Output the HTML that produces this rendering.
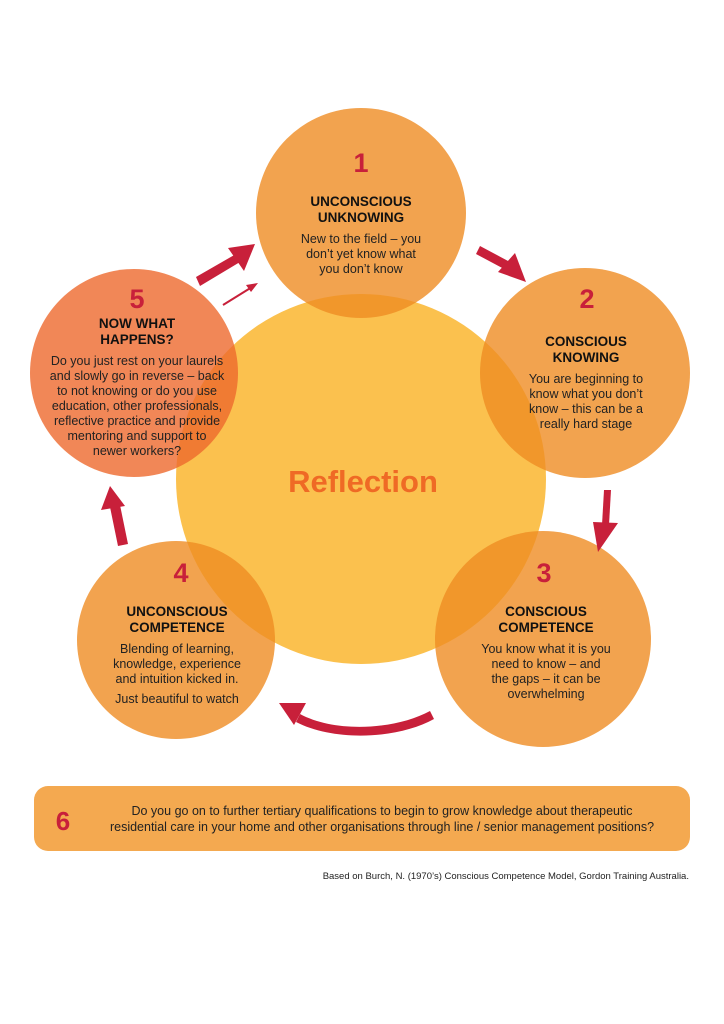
<!DOCTYPE html>
<html><head><style>
body{margin:0;background:#fff;}
svg{display:block;font-family:"Liberation Sans",Arial,sans-serif;}
.n{font-size:27px;font-weight:bold;fill:#c8203a;text-anchor:middle}
.t{font-size:13.5px;font-weight:bold;fill:#111;text-anchor:middle}
.b{font-size:12.5px;fill:#222;text-anchor:middle}
</style></head><body>
<svg width="724" height="1024" viewBox="0 0 724 1024">
<circle cx="361" cy="479" r="185" fill="#fbc14e"/>
<g fill="rgba(239,140,35,0.8)">
<circle cx="361" cy="213" r="105"/>
<circle cx="585" cy="373" r="105"/>
<circle cx="543" cy="639" r="108"/>
<circle cx="176" cy="640" r="99"/>
</g>
<circle cx="134" cy="373" r="104" fill="rgba(238,105,45,0.8)"/>
<text x="363" y="492" font-size="31" font-weight="bold" fill="#ef6a25" text-anchor="middle">Reflection</text>
<!-- arrows -->
<g fill="#c8203a" stroke="none">
<path d="M196 277 L236 254 L240 262 L200 286 Z"/>
<polygon points="255,244 228,248 244,271"/>
<path d="M480 246 L510 262 L506 270 L476 254Z"/>
<polygon points="526,282 498,272 515,253"/>
<path d="M604 490 L611 490 L609 525 L602 525Z"/>
<polygon points="598,552 593,522 618,523"/>
<path d="M430 711 C395 730 335 733 300 714 L296 722 C335 742 398 739 434 719 Z"/>
<polygon points="279,703 306,703 294,725"/>
<path d="M118 546 L128 544 L120 505 L110 507Z"/>
<polygon points="110,486 101,510 125,506"/>
</g>
<path d="M223 305 L252 287" stroke="#c8203a" stroke-width="2"/>
<polygon points="258,283 246,285 251,292" fill="#c8203a"/>
<!-- circle 1 -->
<text class="n" x="361" y="172">1</text>
<text class="t" x="361" y="206">UNCONSCIOUS</text>
<text class="t" x="361" y="222">UNKNOWING</text>
<text class="b" x="361" y="243">New to the field – you</text>
<text class="b" x="361" y="258">don’t yet know what</text>
<text class="b" x="361" y="273">you don’t know</text>
<!-- 2 -->
<text class="n" x="587" y="308">2</text>
<text class="t" x="586" y="346">CONSCIOUS</text>
<text class="t" x="586" y="362">KNOWING</text>
<text class="b" x="586" y="383">You are beginning to</text>
<text class="b" x="586" y="398">know what you don’t</text>
<text class="b" x="586" y="413">know – this can be a</text>
<text class="b" x="586" y="428">really hard stage</text>
<!-- 3 -->
<text class="n" x="544" y="582">3</text>
<text class="t" x="546" y="616">CONSCIOUS</text>
<text class="t" x="546" y="632">COMPETENCE</text>
<text class="b" x="546" y="653">You know what it is you</text>
<text class="b" x="546" y="668">need to know – and</text>
<text class="b" x="546" y="683">the gaps – it can be</text>
<text class="b" x="546" y="698">overwhelming</text>
<!-- 4 -->
<text class="n" x="181" y="582">4</text>
<text class="t" x="177" y="616">UNCONSCIOUS</text>
<text class="t" x="177" y="632">COMPETENCE</text>
<text class="b" x="177" y="653">Blending of learning,</text>
<text class="b" x="177" y="668">knowledge, experience</text>
<text class="b" x="177" y="683">and intuition kicked in.</text>
<text class="b" x="177" y="703">Just beautiful to watch</text>
<!-- 5 -->
<text class="n" x="137" y="308">5</text>
<text class="t" x="137" y="328">NOW WHAT</text>
<text class="t" x="137" y="344">HAPPENS?</text>
<text class="b" x="137" y="365">Do you just rest on your laurels</text>
<text class="b" x="137" y="380">and slowly go in reverse – back</text>
<text class="b" x="137" y="395">to not knowing or do you use</text>
<text class="b" x="137" y="410">education, other professionals,</text>
<text class="b" x="137" y="425">reflective practice and provide</text>
<text class="b" x="137" y="440">mentoring and support to</text>
<text class="b" x="137" y="455">newer workers?</text>
<!-- box 6 -->
<rect x="34" y="786" width="656" height="65" rx="14" fill="#f4a950"/>
<text x="63" y="830" font-size="26" font-weight="bold" fill="#c8203a" text-anchor="middle">6</text>
<text class="b" x="382" y="815">Do you go on to further tertiary qualifications to begin to grow knowledge about therapeutic</text>
<text class="b" x="382" y="831">residential care in your home and other organisations through line / senior management positions?</text>
<text x="689" y="879" font-size="9.5" fill="#222" text-anchor="end">Based on Burch, N. (1970’s) Conscious Competence Model, Gordon Training Australia.</text>
</svg>
</body></html>
